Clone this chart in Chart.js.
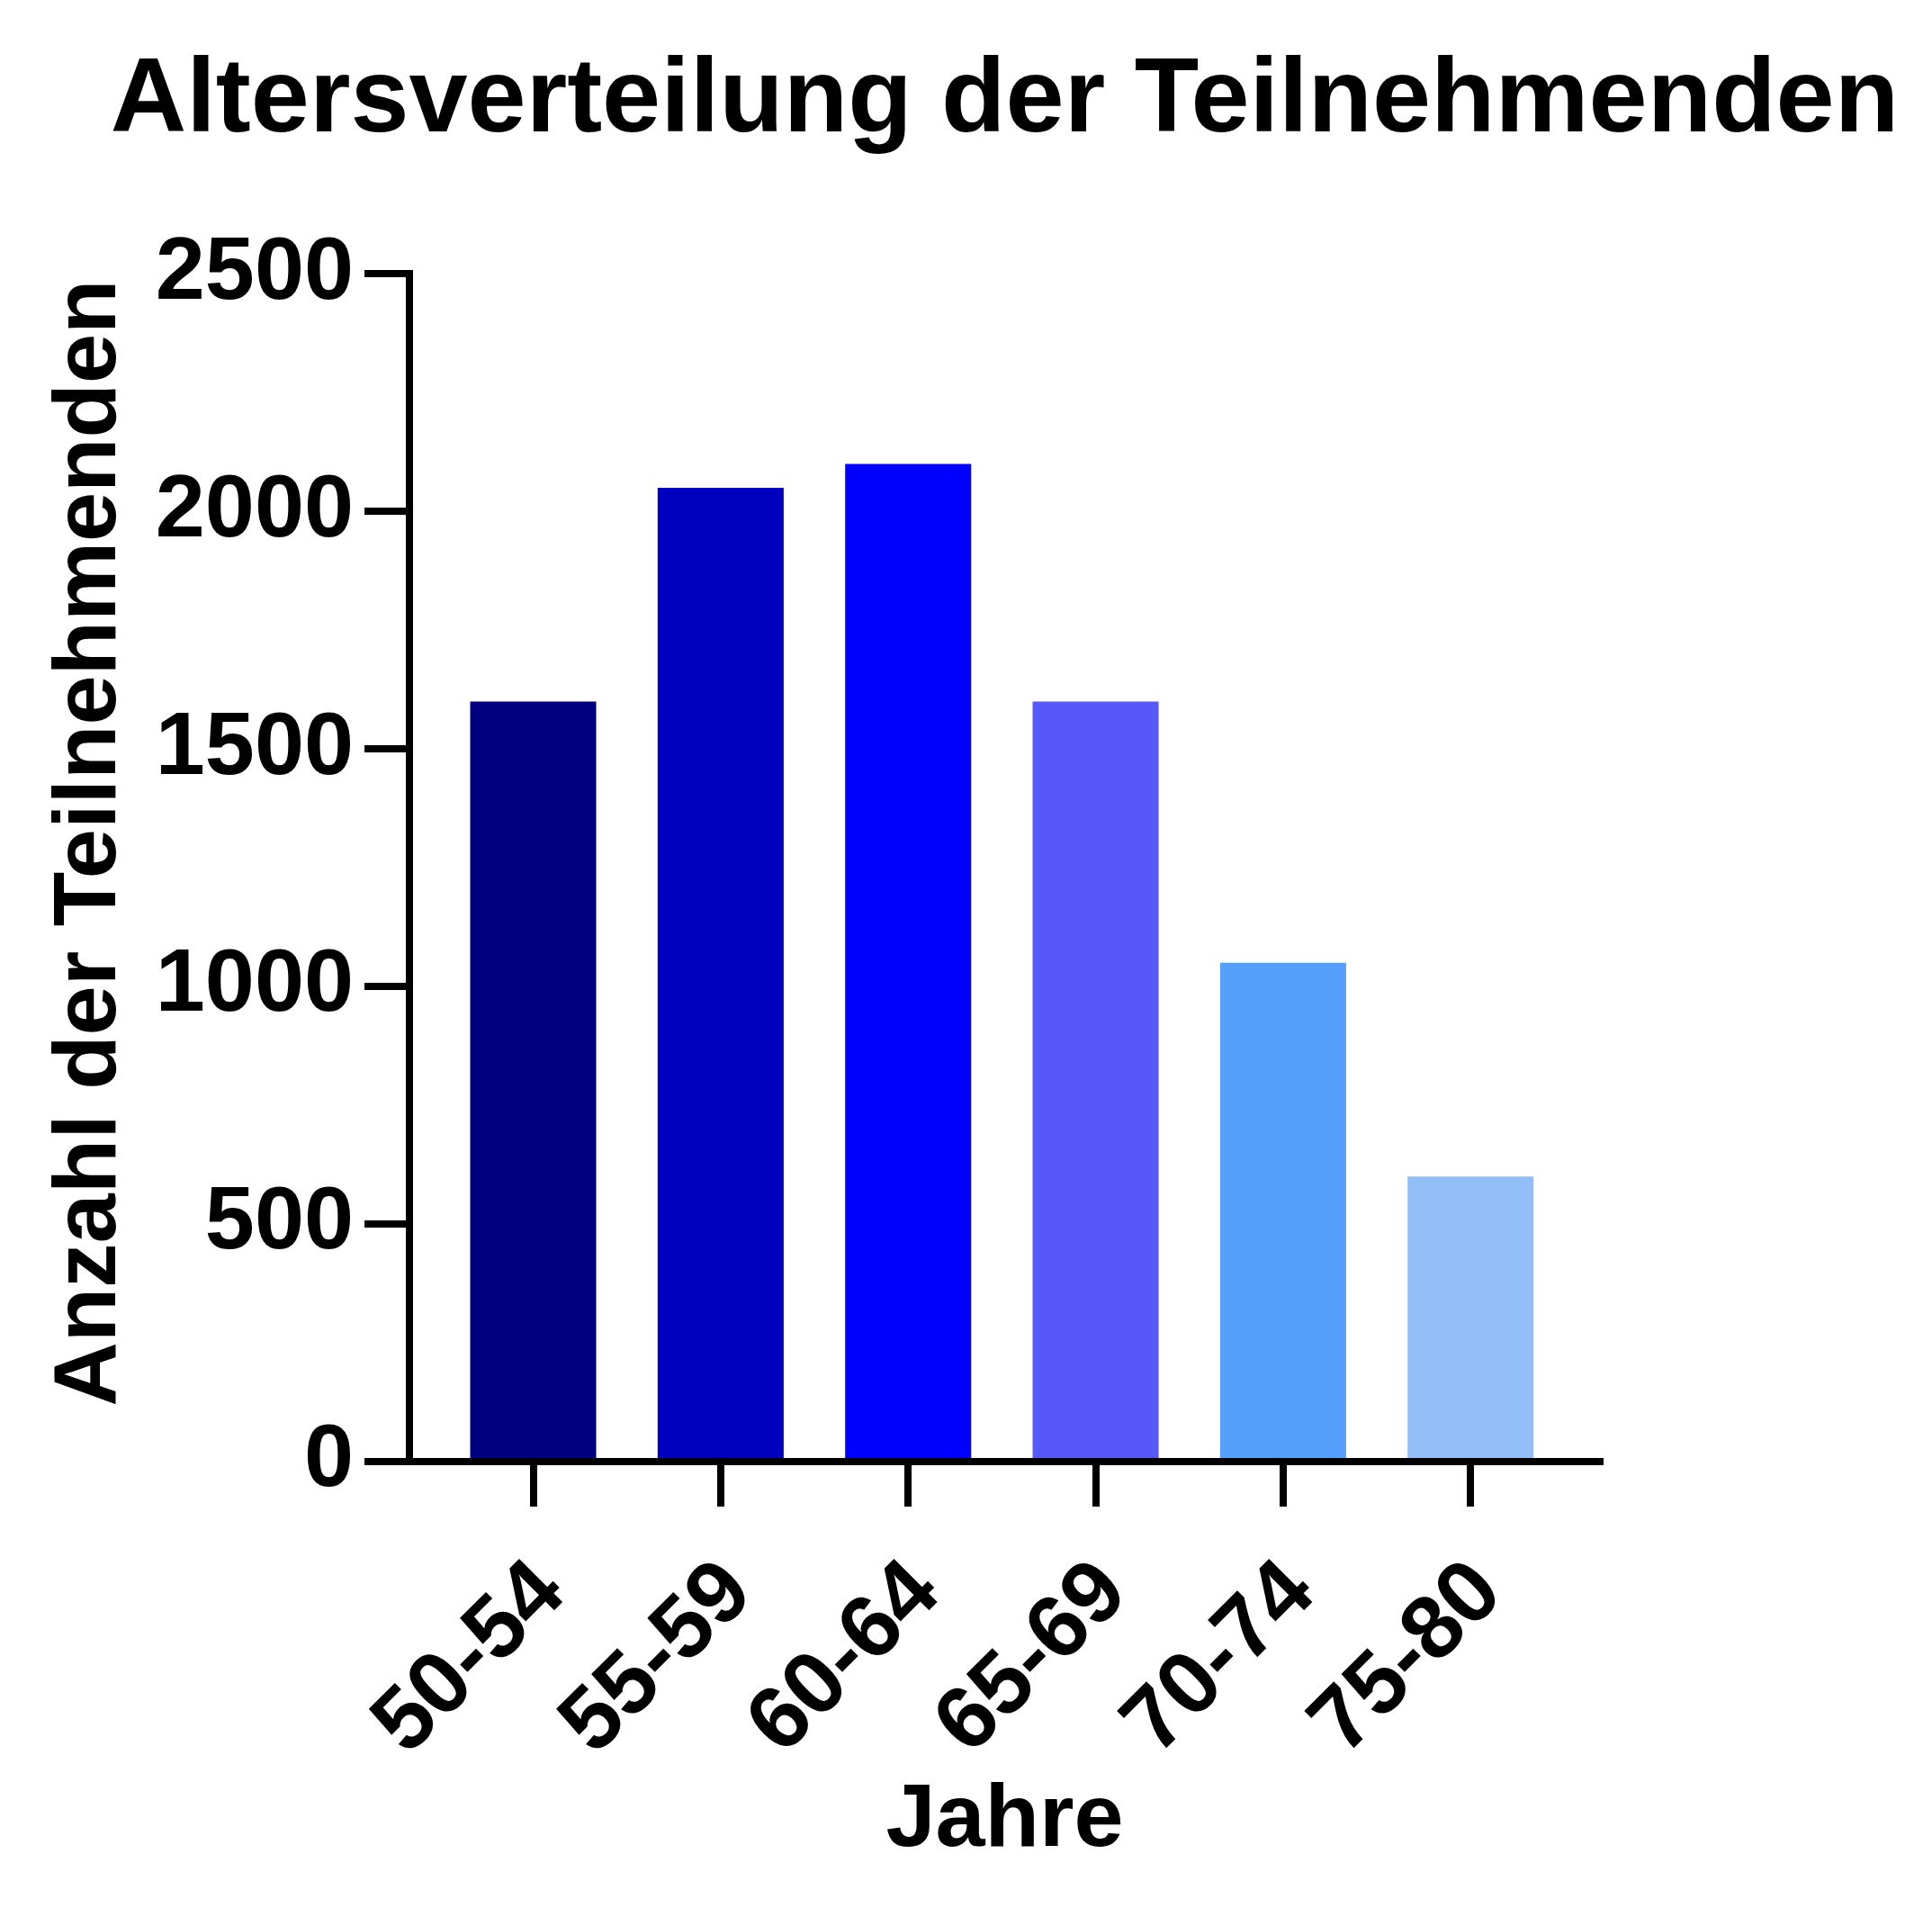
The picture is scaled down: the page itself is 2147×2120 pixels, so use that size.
<!DOCTYPE html>
<html>
<head>
<meta charset="utf-8">
<script src="https://cdn.jsdelivr.net/npm/chart.js@4/dist/chart.umd.min.js"></script>
<style>
  html, body { margin: 0; padding: 0; background: #fff; }
  canvas { display: block; }
</style>
</head>
<body>
<canvas id="chart" width="2147" height="2120"></canvas>
<script>
const categories = ["50-54", "55-59", "60-64", "65-69", "70-74", "75-80"];
const counts = [1600, 2050, 2100, 1600, 1050, 600];
const barColors = ["#000080", "#0000C0", "#0000FF", "#5858F8", "#55A0FC", "#93BFF8"];
const yTicks = [0, 500, 1000, 1500, 2000, 2500];

const FONT = "'Liberation Sans', Arial, sans-serif";

const canvas = document.getElementById("chart");
const context = canvas.getContext("2d");

new Chart(context, {
    type: "bar",
    data: {
        datasets: [
            {
                data: categories.map((c, i) => ({ x: i, y: counts[i] })),
                backgroundColor: barColors,
                borderWidth: 0,
                categoryPercentage: 1,
                barPercentage: 0.672,
            },
        ],
    },
    options: {
        responsive: false,
        animation: false,
        devicePixelRatio: 1,
        layout: {
            padding: { left: 86, right: 0, top: 0, bottom: 0 },
        },
        plugins: {
            legend: { display: false },
            tooltip: { enabled: false },
            title: {
                display: true,
                text: "Altersverteilung der Teilnehmenden",
                color: "#000",
                font: { family: FONT, size: 117, weight: "bold", lineHeight: 1.2 },
                padding: { top: 44, bottom: 120 },
            },
        },
        scales: {
            x: {
                type: "linear",
                min: -0.66,
                max: 5.69,
                offset: false,
                afterFit: (scale) => { scale.height = 496; },
                border: { display: true, width: 8, color: "#000" },
                grid: {
                    offset: false,
                    drawOnChartArea: false,
                    drawTicks: true,
                    tickLength: 50,
                    lineWidth: 8,
                    color: "#000",
                },
                ticks: {
                    stepSize: 1,
                    includeBounds: false,
                    autoSkip: false,
                    maxRotation: 45,
                    minRotation: 45,
                    padding: 38,
                    labelOffset: 20,
                    color: "#000",
                    font: { family: FONT, size: 99, weight: "bold" },
                    callback: (value) => categories[value],
                },
                title: {
                    display: true,
                    text: "Jahre",
                    color: "#000",
                    font: { family: FONT, size: 99, weight: "bold", lineHeight: 1.2 },
                    padding: { top: 0, bottom: 37 },
                },
            },
            y: {
                min: 0,
                max: 2500,
                afterFit: (scale) => { scale.width = 369; },
                afterBuildTicks: (scale) => { scale.ticks = yTicks.map((v) => ({ value: v })); },
                border: { display: true, width: 8, color: "#000" },
                grid: {
                    drawOnChartArea: false,
                    drawTicks: true,
                    tickLength: 50,
                    lineWidth: 8,
                    color: "#000",
                },
                ticks: {
                    padding: 12,
                    color: "#000",
                    font: { family: FONT, size: 99, weight: "bold" },
                    callback: (value) => String(value),
                },
                title: {
                    display: true,
                    text: "  Anzahl der Teilnehmenden",
                    color: "#000",
                    font: { family: FONT, size: 99, weight: "bold", lineHeight: 1.2 },
                    padding: { top: -45, bottom: 0 },
                },
            },
            // empty right-hand box that keeps the space right of the plot
            yRight: {
                type: "linear",
                position: "right",
                afterFit: (scale) => { scale.width = 369; },
                border: { display: false },
                grid: { display: false },
                ticks: { display: false },
            },
        },
    },
});
</script>
</body>
</html>
